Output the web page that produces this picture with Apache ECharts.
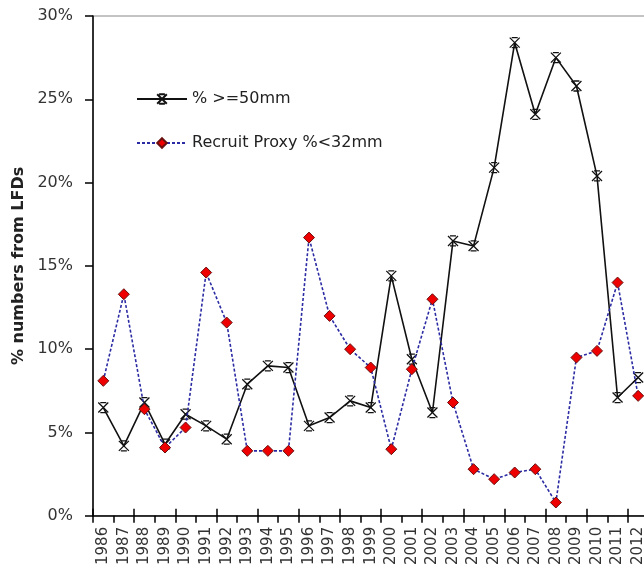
<!DOCTYPE html>
<html>
<head>
<meta charset="utf-8">
<script src="https://cdn.jsdelivr.net/npm/echarts@6/dist/echarts.min.js"></script>
<style>
  html, body { margin: 0; padding: 0; background: #fff; overflow: hidden; }
  /* the original is cropped on the right, so the chart runs a little past the window */
  #chart { width: 670px; height: 568px; }
</style>
</head>
<body>
<div id="chart"></div>
<script>
const years = ['1986', '1987', '1988', '1989', '1990', '1991', '1992', '1993', '1994', '1995',
  '1996', '1997', '1998', '1999', '2000', '2001', '2002', '2003', '2004', '2005',
  '2006', '2007', '2008', '2009', '2010', '2011', '2012', '2013'];

// % >=50mm
const largeShare = [6.5, 4.2, 6.8, 4.3, 6.1, 5.4, 4.6, 7.9, 9.0, 8.9,
  5.4, 5.9, 6.9, 6.5, 14.4, 9.4, 6.2, 16.5, 16.2, 20.9,
  28.4, 24.1, 27.5, 25.8, 20.4, 7.1, 8.3, null];

// Recruit Proxy %<32mm
const recruitShare = [8.1, 13.3, 6.4, 4.1, 5.3, 14.6, 11.6, 3.9, 3.9, 3.9,
  16.7, 12.0, 10.0, 8.9, 4.0, 8.8, 13.0, 6.8, 2.8, 2.2,
  2.6, 2.8, 0.8, 9.5, 9.9, 14.0, 7.2, null];

const yTicks = { min: 0, max: 30, step: 5 };

const chart = echarts.init(document.getElementById('chart'));

const font = 'DejaVu Sans, Verdana, sans-serif';
const hourglass = 'path://M0,0L10,10M10,0L0,10M2,0L8,0M2,10L8,10';

chart.setOption({
  animation: false,
  backgroundColor: '#fff',
  textStyle: { fontFamily: font },
  grid: {
    left: 93,
    top: 16,
    bottom: 52,
    right: 1,
    show: true,
    borderColor: '#888',
    borderWidth: 1
  },
  legend: {
    left: 131,
    top: 86,
    orient: 'vertical',
    itemWidth: 50,
    itemHeight: 12,
    itemGap: 28,
    textStyle: { fontSize: 16, color: '#222', fontFamily: font },
    data: ['% >=50mm', 'Recruit Proxy %<32mm']
  },
  xAxis: [{
    type: 'category',
    data: years,
    boundaryGap: true,
    axisLine: { lineStyle: { color: '#000', width: 1.5 } },
    axisTick: { show: true, length: 7, lineStyle: { color: '#000', width: 1.5 } },
    axisLabel: { rotate: 90, margin: 11, fontSize: 15, color: '#333', fontFamily: font, interval: 0 },
    splitLine: { show: false }
  }, {
    type: 'category',
    data: years,
    position: 'bottom',
    boundaryGap: true,
    axisLine: { show: false },
    axisTick: { show: true, inside: true, length: 7, lineStyle: { color: '#000', width: 1.5 } },
    axisLabel: { show: false },
    splitLine: { show: false }
  }],
  yAxis: {
    type: 'value',
    min: yTicks.min,
    max: yTicks.max,
    interval: yTicks.step,
    name: '% numbers from LFDs',
    nameLocation: 'middle',
    nameGap: 66,
    nameTextStyle: { fontSize: 16, fontWeight: 'bold', color: '#222', fontFamily: font },
    axisLine: { show: true, lineStyle: { color: '#000', width: 1.5 } },
    axisTick: { show: true, length: 8, lineStyle: { color: '#000', width: 1.5 } },
    axisLabel: { formatter: '{value}%', fontSize: 16, color: '#333', margin: 20, fontFamily: font },
    splitLine: { show: false }
  },
  series: [{
    name: '% >=50mm',
    type: 'line',
    data: largeShare,
    symbol: hourglass,
    symbolSize: 10,
    lineStyle: { color: '#111', width: 1.6 },
    itemStyle: { color: '#111', borderColor: '#111', borderWidth: 1.3 },
    z: 3
  }, {
    name: 'Recruit Proxy %<32mm',
    type: 'line',
    data: recruitShare,
    symbol: 'diamond',
    symbolSize: 11,
    lineStyle: { color: '#2b2ba3', width: 1.6, type: [3, 2] },
    itemStyle: { color: '#ee0000', borderColor: '#6a1010', borderWidth: 1 },
    z: 4
  }]
});
</script>
</body>
</html>
